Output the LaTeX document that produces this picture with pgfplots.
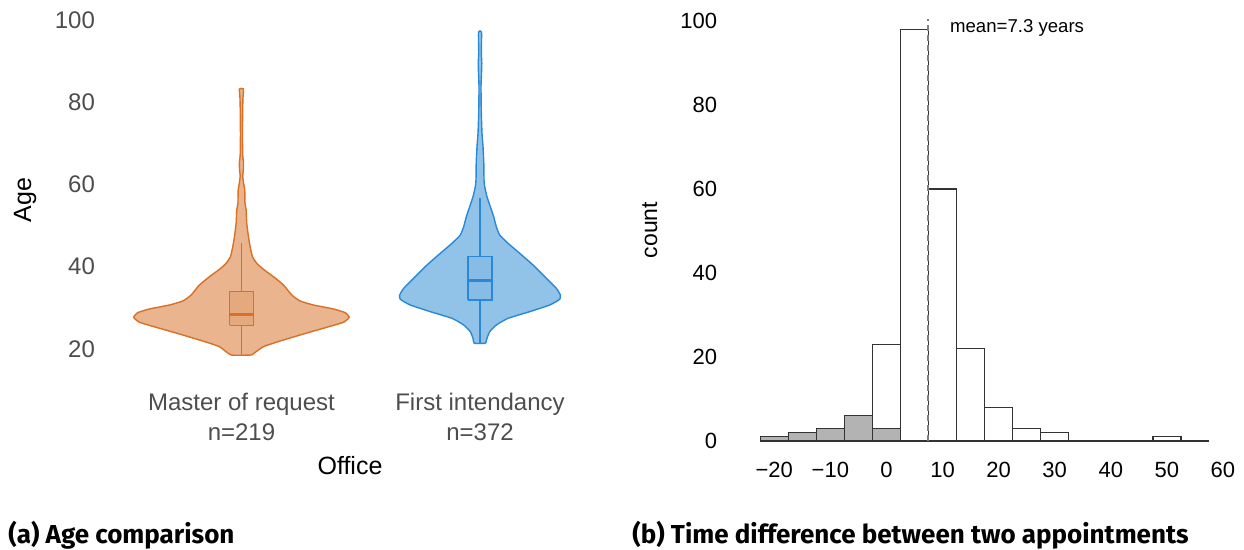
\documentclass[border=0pt]{standalone}
\usepackage{fontspec}
\setmainfont{Liberation Sans}
\newfontfamily\capfont{Fira Sans}
\usepackage{pgfplots}
\pgfplotsset{compat=1.18}
\usepackage{pgfplotstable}

\definecolor{orline}{HTML}{D97026}
\definecolor{orfill}{HTML}{E9B48E}
\definecolor{orbox}{HTML}{E5A97E}
\definecolor{blline}{HTML}{2988D8}
\definecolor{blfill}{HTML}{91C3E8}
\definecolor{blbox}{HTML}{87BCE6}
\definecolor{ticktext}{HTML}{4D4D4D}
\definecolor{histgray}{HTML}{B3B3B3}

% violin outlines: age, signed half width (px of the original figure),
% right side bottom to top, then left side top to bottom
\pgfplotstableread{
age off
18.54 10.3
20.56 22
21.94 38.7
23.64 62
25.27 85.3
26.49 102
27.70 107.7
28.83 103.7
29.72 92
30.69 72
31.66 58.7
33.12 50.3
35.55 42
37.57 32
39.36 22
40.82 15.3
42.43 11
44.86 8.7
47.29 7
50.54 5.3
53.78 4.7
55.5 3.5
58.6 3.3
60.5 2
62.0 1.3
64.0 2
65.5 2
67.0 1.3
72.0 1
78.0 1.2
81.0 1.5
83.2 2
83.2 -2
81.0 -1.5
78.0 -1.2
72.0 -1
67.0 -1.3
65.5 -2
64.0 -2
62.0 -1.3
60.5 -2
58.6 -3.3
55.5 -3.5
53.78 -4.7
50.54 -5.3
47.29 -7
44.86 -8.7
42.43 -11
40.82 -15.3
39.36 -22
37.57 -32
35.55 -42
33.12 -50.3
31.66 -58.7
30.69 -72
29.72 -92
28.83 -103.7
27.70 -107.7
26.49 -102
25.27 -85.3
23.64 -62
21.94 -38.7
20.56 -22
18.54 -10.3
18.54 10.3
}\master

\pgfplotstableread{
age off
21.38 5.7
22.6 7
24.2 9.7
25.83 16.3
27.45 28
29.07 49.7
30.69 69.7
32.07 79.7
33.12 80.3
34.74 76.3
37.57 64.7
40.41 53
43.25 39.7
45.68 28
47.70 19.7
49.72 16.3
52.15 13.7
54.58 10.3
57.01 7
59.44 4.7
61.07 4
65.1 3.8
69.2 3
72.4 2
77.3 1.3
83.7 1
87.0 1.5
89.4 1.8
92.0 1.3
97.0 1.5
97.0 -1.5
92.0 -1.3
89.4 -1.8
87.0 -1.5
83.7 -1
77.3 -1.3
72.4 -2
69.2 -3
65.1 -3.8
61.07 -4
59.44 -4.7
57.01 -7
54.58 -10.3
52.15 -13.7
49.72 -16.3
47.70 -19.7
45.68 -28
43.25 -39.7
40.41 -53
37.57 -64.7
34.74 -76.3
33.12 -80.3
32.07 -79.7
30.69 -69.7
29.07 -49.7
27.45 -28
25.83 -16.3
24.2 -9.7
22.6 -7
21.38 -5.7
21.38 5.7
}\intend

\begin{document}
\begin{tikzpicture}

% (a) violins
\begin{axis}[
  at={(50pt,79.93pt)}, anchor=south west,
  scale only axis, width=250pt, height=185.17pt,
  xmin=0.407, xmax=2.503, ymin=10, ymax=100,
  axis line style={draw=none}, tick style={draw=none},
  xtick={1,2},
  xticklabels={{Master of request\\n=219},{First intendancy\\n=372}},
  xticklabel style={align=center, font=\fontsize{12}{15}\selectfont, text=ticktext, yshift=2pt},
  ytick={20,40,60,80,100},
  yticklabel style={font=\fontsize{12}{14}\selectfont, text=ticktext, xshift=1pt},
  /pgf/number format/assume math mode=true,
  xlabel={Office}, ylabel={Age},
  label style={font=\fontsize{12.5}{15}\selectfont},
  xlabel style={yshift=-1pt},
  ylabel style={at={(axis description cs:-0.15,0.513)}, anchor=center},
]
\addplot[fill=orfill, draw=orline, line width=0.7pt, smooth, tension=0.3]
  table[x expr=1+\thisrow{off}/238.5, y=age] {\master};
% box: whiskers 18.5-45.7, quartiles 25.8/33.9, median 28.5
\addplot[orline, line width=0.6pt] coordinates {(1,18.5) (1,25.8)};
\addplot[orline, line width=0.6pt] coordinates {(1,33.9) (1,45.7)};
\addplot[orline, fill=orbox, line width=0.6pt] coordinates {
  (0.95,25.8) (1.05,25.8) (1.05,33.9) (0.95,33.9) (0.95,25.8)};
\addplot[orline, line width=1.5pt] coordinates {(0.95,28.5) (1.05,28.5)};

\addplot[fill=blfill, draw=blline, line width=0.7pt, smooth, tension=0.3]
  table[x expr=2+\thisrow{off}/238.5, y=age] {\intend};
% box: whiskers 21.4-56.6, quartiles 31.9/42.4, median 36.6
\addplot[blline, line width=0.6pt] coordinates {(2,21.4) (2,31.9)};
\addplot[blline, line width=0.6pt] coordinates {(2,42.4) (2,56.6)};
\addplot[blline, fill=blbox, line width=0.6pt] coordinates {
  (1.95,31.9) (2.05,31.9) (2.05,42.4) (1.95,42.4) (1.95,31.9)};
\addplot[blline, line width=1.5pt] coordinates {(1.95,36.6) (2.05,36.6)};
\end{axis}

% (b) histogram
\begin{axis}[
  at={(373.1pt,54.5pt)}, anchor=south west,
  scale only axis, width=238.4pt, height=210pt,
  xmin=-25, xmax=60, ymin=0, ymax=100,
  axis line style={draw=none}, tick style={draw=none},
  xtick={-20,-10,0,10,20,30,40,50,60},
  xticklabels={−20,−10,0,10,20,30,40,50,60},
  ytick={0,20,40,60,80,100},
  ticklabel style={font=\fontsize{11}{13}\selectfont},
  yticklabel style={xshift=-11pt},
  xticklabel style={yshift=-7pt},
  /pgf/number format/assume math mode=true,
  ylabel={count},
  ylabel style={at={(axis description cs:-0.202,0.502)}, anchor=center, font=\fontsize{11.5}{14}\selectfont},
  clip=false,
]
\addplot[ybar interval, fill=white, draw=black!80, line width=0.65pt] coordinates {
  (-22.5,1) (-17.5,2) (-12.5,3) (-7.5,6) (-2.5,23) (2.5,98) (7.5,60) (12.5,22)
  (17.5,8) (22.5,3) (27.5,2) (32.5,0) (37.5,0) (42.5,0) (47.5,1) (52.5,0) (57.5,0)};
\addplot[ybar interval, fill=histgray, draw=black!80, line width=0.65pt] coordinates {
  (-22.5,1) (-17.5,2) (-12.5,3) (-7.5,6) (-2.5,3) (2.5,0)};
\addplot[densely dashed, gray, line width=0.6pt] coordinates {(7.4,0) (7.4,100.5)};
\node[anchor=west, font=\fontsize{9.3}{11}\selectfont] at (axis cs:10.1,98.3) {mean=7.3 years};
\end{axis}

\node[anchor=west, inner sep=0, font=\capfont\bfseries\fontsize{13}{15}\selectfont] at (4pt,7.5pt) {(a) Age comparison};
\node[anchor=west, inner sep=0, font=\capfont\bfseries\fontsize{13}{15}\selectfont] at (316pt,7.5pt) {(b) Time difference between two appointments};

\pgfresetboundingbox
\path[use as bounding box] (0,0) rectangle (622pt,275pt);
\end{tikzpicture}
\end{document}
